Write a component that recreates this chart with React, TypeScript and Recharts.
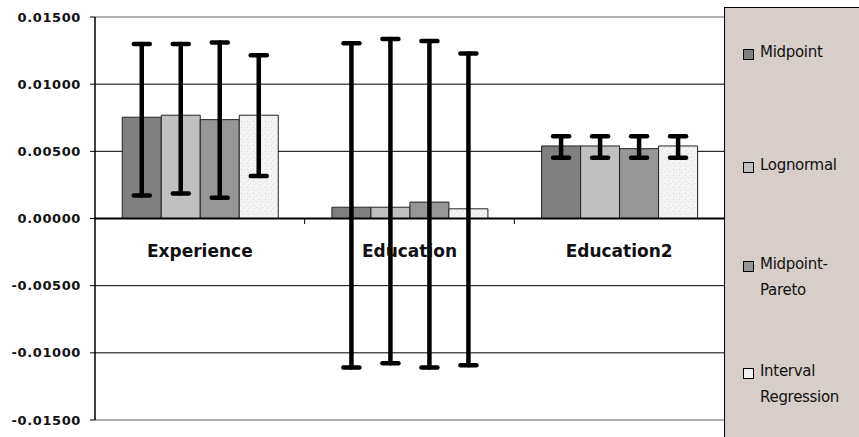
import { BarChart, Bar, XAxis, YAxis, CartesianGrid, ReferenceLine, ErrorBar, Legend } from "recharts";

const categories = ["Experience", "Education", "Education2"];
const seriesNames = ["Midpoint", "Lognormal", "Midpoint-Pareto", "Interval Regression"];
const seriesColors = ["#808080", "#c0c0c0", "#969696", "url(#speckle)"];
const swatchColors = ["#808080", "#c0c0c0", "#969696", "#f2f2f2"];

// coefficient estimates per series (one value per category)
const midpoint = [0.00754, 0.00084, 0.0054];
const lognormal = [0.00769, 0.00084, 0.0054];
const midpointPareto = [0.00736, 0.00122, 0.0052];
const intervalReg = [0.00769, 0.00072, 0.0054];

// confidence interval bounds
const midpointLow = [0.00172, -0.0111, 0.00453];
const midpointHigh = [0.01299, 0.01304, 0.00612];
const lognormalLow = [0.00187, -0.01077, 0.00453];
const lognormalHigh = [0.01299, 0.01336, 0.00612];
const paretoLow = [0.00154, -0.0111, 0.00453];
const paretoHigh = [0.01311, 0.01321, 0.00612];
const intervalLow = [0.00316, -0.01092, 0.00453];
const intervalHigh = [0.01216, 0.01229, 0.00612];

const yTicks = [-0.015, -0.01, -0.005, 0, 0.005, 0.01, 0.015];

const values = [midpoint, lognormal, midpointPareto, intervalReg];
const lows = [midpointLow, lognormalLow, paretoLow, intervalLow];
const highs = [midpointHigh, lognormalHigh, paretoHigh, intervalHigh];

const data = categories.map((name, i) => {
  const row: Record<string, any> = { name };
  values.forEach((v, s) => {
    row[`s${s}`] = v[i];
    row[`e${s}`] = [v[i] - lows[s][i], highs[s][i] - v[i]];
  });
  return row;
});

function CategoryTick(props: any) {
  const { x, y, payload, index } = props;
  const half = payload?.offset ?? 105;
  return (
    <g>
      {index < categories.length - 1 && (
        <line x1={x + half} x2={x + half} y1={y - 210} y2={y - 204} stroke="#000" strokeWidth={1} />
      )}
      <text
        x={x}
        y={y - 171}
        textAnchor="middle"
        fontFamily="DejaVu Sans"
        fontWeight="bold"
        fontSize={17}
        fill="#111"
      >
        {payload.value}
      </text>
    </g>
  );
}

const legendTops = [37, 150, 249, 356];

function LegendPanel() {
  return (
    <div
      style={{
        width: 135,
        height: 440,
        background: "#d7cec9",
        borderLeft: "1px solid #000",
        borderTop: "1px solid #000",
        boxSizing: "border-box",
        position: "relative",
        fontFamily: "DejaVu Sans",
        fontSize: 15,
        color: "#111",
      }}
    >
      {seriesNames.map((n, i) => (
        <div
          key={n}
          style={{ position: "absolute", left: 18, top: legendTops[i], display: "flex", alignItems: "flex-start" }}
        >
          <span
            style={{
              width: 9,
              height: 9,
              marginTop: 4,
              marginRight: 6,
              background: swatchColors[i],
              border: "1px solid #000",
              flexShrink: 0,
            }}
          />
          <span style={{ width: 100, lineHeight: "26px", marginTop: -6, letterSpacing: -0.3 }}>{n}</span>
        </div>
      ))}
    </div>
  );
}

export default function App() {
  return (
    <div style={{ position: "absolute", left: 0, top: 0, background: "#fff" }}>
      <BarChart
        width={859}
        height={437}
        data={data}
        margin={{ top: 17, right: 0, left: 0, bottom: 16 }}
        barGap={0}
        barCategoryGap="13%"
      >
        <defs>
          <pattern id="speckle" width="6" height="6" patternUnits="userSpaceOnUse">
            <rect width="6" height="6" fill="#f4f4f4" />
            <rect x="1" y="1" width="1" height="1" fill="#d4d4d4" />
            <rect x="4" y="3" width="1" height="1" fill="#dcdcdc" />
            <rect x="2" y="4" width="1" height="1" fill="#e0e0e0" />
          </pattern>
        </defs>
        <CartesianGrid vertical={false} stroke="#000" strokeWidth={1} />
        <ReferenceLine y={0.015} stroke="#b0b0b0" strokeWidth={2} />
        <ReferenceLine y={-0.015} stroke="#b0b0b0" strokeWidth={2} />
        <XAxis
          dataKey="name"
          height={1}
          axisLine={false}
          tickLine={false}
          tick={<CategoryTick />}
          interval={0}
        />
        <YAxis
          width={95}
          domain={[-0.015, 0.015]}
          ticks={yTicks}
          interval={0}
          axisLine={{ stroke: "#000", strokeWidth: 1.5 }}
          tickLine={{ stroke: "#000" }}
          tickSize={5}
          tickMargin={9}
          tick={{ fontFamily: "DejaVu Sans", fontWeight: "bold", fontSize: 13, fill: "#111", letterSpacing: 0.6 }}
          tickFormatter={(v: number) => v.toFixed(5)}
        />
        {seriesNames.map((n, s) => (
          <Bar
            key={n}
            dataKey={`s${s}`}
            name={n}
            fill={seriesColors[s]}
            stroke="#222"
            strokeWidth={1}
            isAnimationActive={false}
          >
            <ErrorBar dataKey={`e${s}`} width={8} stroke="#000" strokeWidth={4.5} strokeLinecap="round" />
          </Bar>
        ))}
        <ReferenceLine y={0} stroke="#000" strokeWidth={2} />
        <Legend
          layout="vertical"
          align="right"
          verticalAlign="top"
          wrapperStyle={{ left: 724, top: 7, width: 135, height: 440 }}
          content={() => <LegendPanel />}
        />
      </BarChart>
    </div>
  );
}
